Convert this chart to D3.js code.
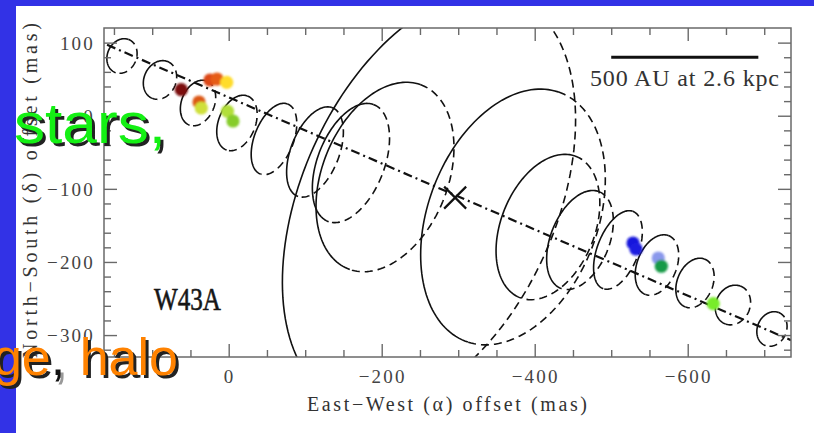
<!DOCTYPE html>
<html><head><meta charset="utf-8">
<script src="https://cdn.jsdelivr.net/npm/d3@7"></script>
<style>html,body{margin:0;padding:0;overflow:hidden;background:#3232e6}</style>
</head><body>
<svg id="c" width="814" height="433"></svg>
<script>
// ---------------- data ----------------
const xMajorTicks = [0, -200, -400, -600];
const xMinorTicks = [150, 100, 50, -50, -100, -150, -250, -300, -350, -450, -500, -550, -650, -700];
const yMajorTicks = [100, 0, -100, -200, -300];
const yMinorTicks = [80, 60, 40, 20, -20, -40, -60, -80, -120, -140, -160, -180, -220, -240, -260, -280, -320];

// model rings (mas): centre, semi-major, semi-minor, tilt (deg)
const ringX    = [139.5, 89.8, 40.1, -10.8, -59.2, -112.8, -159.8, -204.3, -261.8, -371.6, -417.3, -459.2, -508.8, -559.8, -609.5, -659.1, -710.1];
const ringY    = [81.7, 48.9, 17.4, -9.9, -31.8, -49.6, -64.7, -83.8, -116.6, -138.5, -152.2, -170.0, -183.6, -204.2, -228.8, -258.9, -291.7];
const ringA    = [24.2, 27.1, 32.2, 39.4, 51.1, 64.7, 85.3, 134.6, 299, 181, 103.4, 70.7, 56.3, 43.0, 35.1, 27.7, 24.2];
const ringB    = [19.1, 21.0, 21.6, 24.2, 25.7, 31.7, 43.8, 82.5, 167.7, 111.4, 61.6, 38.6, 27.0, 25.9, 23.4, 22.4, 19.1];
const ringTilt = [20, 20, 20, 20, 20, 20, 20, 20, 22, 19, 20, 20, 20, 20, 20, 20, 20];

// H2O maser features (mas)
const maserX = [62.0, 24.4, 15.3, 2.6, 38.8, 35.8, 1.6, -5.6, -528.5, -532.4, -561.5, -565.5, -633.4];
const maserY = [35.6, 48.9, 50.2, 45.7, 18.8, 10.6, 6.1, -7.2, -174.1, -182.3, -194.6, -205.9, -257.1];

// jet axis and centre
const axisX = [159, -735];
const axisY = [97, -307];
const centreX = -296, centreY = -112;
const barX = [-500, -692.3], barY = 80;

// styles
const maserFill = ["#7c0c0a", "#dc4612", "#e65c14", "#ffdc2a", "#dc5814", "#cfe03a", "#b2df3a", "#86cc2c",
                   "#1414dc", "#1a1ae0", "#8a98ec", "#129a46", "#78ec2a"];

// ---------------- drawing ----------------
const svg = d3.select("#c");
const W = 814, H = 433;
svg.append("rect").attr("width", W).attr("height", H).attr("fill", "#3232e6");
svg.append("rect").attr("x", 16).attr("y", 6).attr("width", W - 16).attr("height", H - 6).attr("fill", "#fff");

const L = 104, R = 791, T = 28, B = 357;
const x = d3.scaleLinear().domain([163, -735]).range([L, R]);
const y = d3.scaleLinear().domain([120, -330]).range([T, B]);

svg.append("clipPath").attr("id", "plotclip").append("rect")
  .attr("x", L).attr("y", T).attr("width", R - L).attr("height", B - T);

const plot = svg.append("g").attr("clip-path", "url(#plotclip)");

// rings
const line = d3.line();
function ringPoints(i, t0, t1) {
  const p = ringTilt[i] * Math.PI / 180;
  const ux = -Math.sin(p), uy = Math.cos(p);
  const vx = -Math.cos(p), vy = -Math.sin(p);
  return d3.range(0, 81).map(k => {
    const t = t0 + (t1 - t0) * k / 80;
    const dx = ringA[i] * Math.cos(t) * ux + ringB[i] * Math.sin(t) * vx;
    const dy = ringA[i] * Math.cos(t) * uy + ringB[i] * Math.sin(t) * vy;
    return [x(ringX[i] + dx), y(ringY[i] + dy)];
  });
}
ringX.forEach((_, i) => {
  plot.append("path").attr("d", line(ringPoints(i, Math.PI, 2 * Math.PI)))
    .attr("fill", "none").attr("stroke", "#111").attr("stroke-width", 1.6);
  plot.append("path").attr("d", line(ringPoints(i, 0, Math.PI)))
    .attr("fill", "none").attr("stroke", "#111").attr("stroke-width", 1.6)
    .attr("stroke-dasharray", "8,5");
});

// jet axis
plot.append("path").attr("d", line(axisX.map((v, i) => [x(v), y(axisY[i])])))
  .attr("fill", "none").attr("stroke", "#111").attr("stroke-width", 2.2)
  .attr("stroke-dasharray", "9,4,2,4");

// centre cross
const cx = x(centreX), cy = y(centreY);
plot.append("path").attr("d", `M${cx-11},${cy-11}L${cx+11},${cy+11}M${cx-11},${cy+11}L${cx+11},${cy-11}`)
  .attr("stroke", "#111").attr("stroke-width", 2.2);

// masers
const defs = svg.append("defs");
defs.append("filter").attr("id", "soft").append("feGaussianBlur").attr("stdDeviation", 0.9);
plot.append("g").attr("filter", "url(#soft)").selectAll("circle").data(maserX).join("circle")
  .attr("cx", d => x(d)).attr("cy", (d, i) => y(maserY[i])).attr("r", 6.6)
  .attr("fill", (d, i) => maserFill[i]);

// scale bar
svg.append("line").attr("x1", x(barX[0])).attr("x2", x(barX[1])).attr("y1", y(barY)).attr("y2", y(barY))
  .attr("stroke", "#111").attr("stroke-width", 3);
svg.append("text").attr("x", 590).attr("y", 86).text("500 AU at 2.6 kpc")
  .attr("font-family", "Liberation Serif").attr("font-size", 24).attr("fill", "#333")
  .attr("textLength", 189).attr("lengthAdjust", "spacing");

// axes (inward ticks)
const axcol = "#6a6a6a";
function styleAxis(g) {
  g.select(".domain").remove();
  g.selectAll("line").attr("stroke", axcol).attr("stroke-width", 1.4);
  g.selectAll("text").remove();
}
svg.append("g").attr("transform", `translate(0,${B})`).call(d3.axisBottom(x).tickValues(xMajorTicks).tickSize(-13).tickSizeOuter(0)).call(styleAxis);
svg.append("g").attr("transform", `translate(0,${B})`).call(d3.axisBottom(x).tickValues(xMinorTicks).tickSize(-7).tickSizeOuter(0)).call(styleAxis);
svg.append("g").attr("transform", `translate(0,${T})`).call(d3.axisTop(x).tickValues(xMajorTicks).tickSize(-13).tickSizeOuter(0)).call(styleAxis);
svg.append("g").attr("transform", `translate(0,${T})`).call(d3.axisTop(x).tickValues(xMinorTicks).tickSize(-7).tickSizeOuter(0)).call(styleAxis);
svg.append("g").attr("transform", `translate(${L},0)`).call(d3.axisLeft(y).tickValues(yMajorTicks).tickSize(-13).tickSizeOuter(0)).call(styleAxis);
svg.append("g").attr("transform", `translate(${L},0)`).call(d3.axisLeft(y).tickValues(yMinorTicks).tickSize(-7).tickSizeOuter(0)).call(styleAxis);
svg.append("g").attr("transform", `translate(${R},0)`).call(d3.axisRight(y).tickValues(yMajorTicks).tickSize(-13).tickSizeOuter(0)).call(styleAxis);
svg.append("g").attr("transform", `translate(${R},0)`).call(d3.axisRight(y).tickValues(yMinorTicks).tickSize(-7).tickSizeOuter(0)).call(styleAxis);

svg.append("rect").attr("x", L).attr("y", T).attr("width", R - L).attr("height", B - T)
  .attr("fill", "none").attr("stroke", axcol).attr("stroke-width", 1.5);

const fmt = d3.format("d");
const tickFont = {family: "Liberation Serif", size: 19};
svg.append("g").selectAll("text").data(xMajorTicks).join("text")
  .attr("x", d => x(d) + 1).attr("y", 383).attr("text-anchor", "middle")
  .attr("font-family", tickFont.family).attr("font-size", tickFont.size).attr("letter-spacing", 2.2)
  .attr("fill", "#444").text(d => fmt(d));
svg.append("g").selectAll("text").data(yMajorTicks).join("text")
  .attr("x", 95).attr("y", d => y(d) + 7).attr("text-anchor", "end")
  .attr("font-family", tickFont.family).attr("font-size", tickFont.size).attr("letter-spacing", 2.2)
  .attr("fill", "#444").text(d => fmt(d));

svg.append("text").attr("x", 307).attr("y", 411).text("East−West (α) offset (mas)")
  .attr("font-family", "Liberation Serif").attr("font-size", 20).attr("fill", "#333")
  .attr("textLength", 280).attr("lengthAdjust", "spacing");
svg.append("text").attr("transform", "translate(37,358) rotate(-90)").text("North−South (δ) offset (mas)")
  .attr("font-family", "Liberation Serif").attr("font-size", 20).attr("fill", "#333")
  .attr("textLength", 335).attr("lengthAdjust", "spacing");

svg.append("text").attr("x", 154).attr("y", 310).text("W43A")
  .attr("font-family", "Liberation Serif").attr("font-size", 31).attr("fill", "#161616")
  .attr("stroke", "#161616").attr("stroke-width", 0.6)
  .attr("textLength", 67).attr("lengthAdjust", "spacingAndGlyphs");

// slide overlay texts
function slideText(xp, yp, anchor, size, len, parts, shadow) {
  [[3, 3, true], [0, 0, false]].forEach(([ox, oy, sh]) => {
    const t = svg.append("text").attr("x", xp + ox).attr("y", yp + oy).attr("text-anchor", anchor)
      .attr("font-family", "Liberation Sans, Arial, sans-serif").attr("font-size", size);
    if (len) t.attr("textLength", len).attr("lengthAdjust", "spacingAndGlyphs");
    parts.forEach(p => t.append("tspan").text(p[0]).attr("fill", sh ? (p[2] || shadow) : p[1]));
  });
}
slideText(14, 143, "start", 58, 152, [["stars,", "#14f014"]], "#222");
slideText(178, 375, "end", 52, null, [["ge", "#ff8200"], [",", "#111", "#999"], [" halo", "#ff8200"]], "#222");
</script>
</body></html>
